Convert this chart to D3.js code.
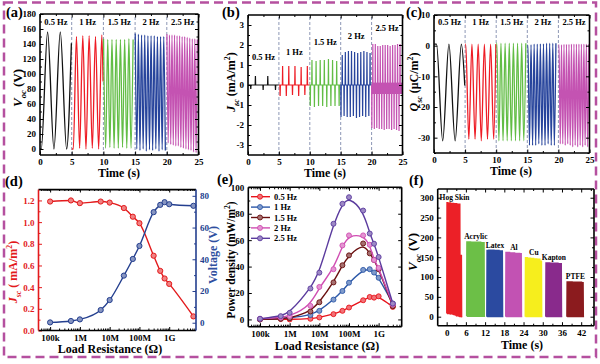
<!DOCTYPE html>
<html>
<head>
<meta charset="utf-8">
<script src="https://cdn.jsdelivr.net/npm/d3@7/dist/d3.min.js"></script>
<style>
  body { margin: 0; background: #fff; }
  text { font-family: "Liberation Serif", "Times New Roman", serif; font-weight: bold; }
</style>
</head>
<body>
<svg id="chart" width="600" height="364"></svg>
<script>
// ---------- data ----------
const segStarts = [0, 5, 10, 15, 20];
const segFreqs = [0.5, 1, 1.5, 2, 2.5];
const segLabels = ["0.5 Hz", "1 Hz", "1.5 Hz", "2 Hz", "2.5 Hz"];
const segColors = ["#111111", "#ee1c25", "#62bd45", "#27449c", "#c453b2"];

// (a) open-circuit voltage, alternating extremes (V), first one at vocT0
const vocT0 = [0.2, 5.25, 10.02, 15.02, 20.02];
const vocExt = [
  [0, 156, 0, 156, 0, 141],
  [0, 150, 1, 151, 0, 151, 1, 150, 0, 152, 90],
  [147, 1, 146, 2, 146, 1, 146, 1, 146, 2, 146, 1, 147, 1, 146],
  [154, 0, 153, -2, 152, 0, 152, -3, 151, -1, 151, -2, 151, 0, 150, -3, 150, -1, 150, -2],
  [153, 8, 152, 6, 152, 5, 152, 4, 151, 4, 151, 2, 150, 1, 150, 0, 149, -1, 148, -2, 147, -4, 147, -5, 146]
];

// (b) short-circuit current density spikes (mA/m2)
const jscUpT0 = [1.2, 5.6, 10.35, 15.25, 20.2];
const jscDownT0 = [0.45, 5.2, 10.08, 15.05, 20.04];
const jscUp = [
  [0.45, 0.45],
  [0.95, 0.95, 0.95, 0.9, 0.95],
  [1.25, 1.2, 1.25, 1.25, 1.3, 1.25, 1.2],
  [1.5, 1.65, 1.7, 1.7, 1.65, 1.6, 1.65, 1.7, 1.65, 1.6],
  [2.05, 2.05, 1.95, 1.95, 2.0, 2.0, 2.0, 1.95, 2.0, 2.0, 2.05, 2.05]
];
const jscDown = [
  [-0.2, -0.25, -0.25],
  [-0.55, -0.55, -0.5, -0.55, -0.5],
  [-1.05, -1.1, -1.05, -1.05, -1.1, -1.05, -1.05, -1.05],
  [-1.6, -1.55, -1.6, -1.6, -1.55, -1.65, -1.6, -1.55, -1.6, -1.55],
  [-2.15, -2.2, -2.15, -2.2, -2.2, -2.25, -2.2, -2.2, -2.25, -2.2, -2.25, -2.3]
];
const jscBand25 = [-0.45, 0.12];
const jscLabelY = [1.25, 1.5, 2.0, 2.3, 2.7];

// (c) transferred charge density, alternating extremes (uC/m2)
const qscT0 = [0.4, 5.1, 10.1, 15.1, 20.1];
const qscExt = [
  [0.5, -31, 0.5, -31, 0.5, -13],
  [0.5, -30.5, 0.5, -30.5, 0.5, -31, 0.5, -30.5, 0.5, -30.5, 0.5],
  [0.8, -31, 0.8, -31, 0.8, -31, 0.8, -31, 0.8, -31, 0.8, -31, 0.8, -31, 0.8],
  [0.2, -32.5, 0.3, -32.5, 0.5, -32.5, 0.5, -32, 0.6, -32.5, 0.6, -32.5, 0.8, -32, 0.8, -32.5, 0.8, -32.5, 0.8],
  [0.3, -32, 0.3, -32, 0.4, -32.5, 0.4, -32, 0.4, -32.5, 0.5, -33, 0.5, -32.5, 0.5, -33, 0.5, -32.5, 0.5, -33, 0.5, -32.5, 0.5, -33, 0.5]
];

// (d) load resistance sweep
const loadD = [1e5, 5e5, 1e6, 5e6, 1e7, 3e7, 6e7, 1e8, 3e8, 5e8, 7e8, 1e9, 6.5e9];
const jscLoad = [1.19, 1.2, 1.175, 1.19, 1.18, 1.13, 1.05, 0.99, 0.69, 0.55, 0.48, 0.43, 0.13];
const voltLoad = [0.2, 1.1, 2.1, 8, 14.3, 29.7, 40.2, 48.4, 69.7, 74.3, 76, 74.7, 73.7];

// (e) power density (mW/m2)
const loadE = [1e5, 5e5, 1e6, 5e6, 1e7, 3e7, 6e7, 1e8, 3e8, 5e8, 7e8, 1e9, 3e9];
const powerLabels = ["0.5 Hz", "1 Hz", "1.5 Hz", "2 Hz", "2.5 Hz"];
const powerColors = ["#e8141c", "#2c58a8", "#6a1010", "#d04db2", "#5b3b9e"];
const power05 = [0, 0.3, 0, 0.5, 1.5, 4, 6.5, 9, 14.5, 17, 16.5, 17.5, 9.5];
const power1 = [0, 0.8, 1.2, 3.3, 6.5, 15, 21.5, 27.8, 37.5, 38, 35.5, 31.5, 12];
const power15 = [0, 0.5, 1, 6, 13, 28, 41, 48.5, 57.5, 50, 45, 38, 10];
const power2 = [0.5, 1.5, 2.5, 10.3, 24.6, 38, 56, 63.6, 63.6, 56.5, 45, 39, 11.3];
const power25 = [0.5, 2.5, 5, 23.4, 35.4, 72.4, 87.5, 92.5, 82.4, 65, 57.3, 47.2, 12];
const powerSeries = [power05, power1, power15, power2, power25];

// (f) V_oc with different contact materials
const materials = ["Hog Skin", "Acrylic", "Latex", "Al", "Cu", "Kapton", "PTFE"];
const matColors = ["#ec2027", "#6cbf47", "#2b4aa0", "#c252b3", "#f6ee1d", "#892a8c", "#8b1b1e"];
const matStart = [0, 6.2, 12.5, 18.4, 24.5, 30.9, 37.5];
const matEnd = [4.9, 12.0, 17.7, 23.6, 29.9, 36.1, 42.9];
const matPeaks = [
  [288, 287, 287, 286, 286, 285, 285, 284, 284, 155],
  [189, 189, 189, 188, 188, 188, 188, 188, 188, 187, 187],
  [167, 168, 168, 168, 168, 167, 167, 167, 166, 166],
  [162, 162, 162, 161, 161, 161, 160, 160, 160, 159],
  [149, 149, 148, 148, 147, 147, 146, 146, 145, 145, 140],
  [136, 136, 136, 135, 135, 135, 135, 135, 134, 134],
  [88, 88, 88, 88, 87, 87, 87, 87, 87, 87, 86]
];
const matFloor = [
  [8, 8, 7, 7, 6, 5, 3, 2, 1, 0, 0],
  [1, 1, 1, 1, 1, 1, 1, 1, 1, 1, 1, 1],
  [0, 0, 0, 0, 0, 0, 0, 0, 0, 0, 0],
  [0, 0, 0, 0, 0, 0, 0, 0, 0, 0, 0],
  [0, 0, 0, 0, 0, 0, 0, 0, 0, 0, 0, 0],
  [0, 0, 0, 0, 0, 0, 0, 0, 0, 0, 0],
  [0, 0, 0, 0, 0, 0, 0, 0, 0, 0, 0, 0]
];

// ---------- helpers ----------
const svg = d3.select("#chart");
const SERIF = "'Liberation Serif', 'Times New Roman', serif";

svg.append("rect")
  .attr("x", 4).attr("y", 2.5).attr("width", 592).attr("height", 354.5)
  .attr("fill", "none").attr("stroke", "#b5509f")
  .attr("stroke-width", 2.5).attr("stroke-dasharray", "9,5");

function addAxis(g, orient, scale, at, values, size, format, color) {
  const maker = { bottom: d3.axisBottom, top: d3.axisTop, left: d3.axisLeft, right: d3.axisRight }[orient];
  const axis = maker(scale).tickValues(values).tickSize(-size).tickPadding(4)
    .tickFormat(format || "");
  const horizontal = orient === "bottom" || orient === "top";
  const a = g.append("g")
    .attr("transform", horizontal ? `translate(0,${at})` : `translate(${at},0)`)
    .call(axis);
  a.select(".domain").remove();
  a.selectAll("line").attr("stroke", color || "#000").attr("stroke-width", 1);
  a.selectAll("text").attr("fill", color || "#000").attr("font-size", 9)
    .attr("font-family", SERIF).attr("font-weight", "bold");
  return a;
}

function frame(g, x, y, sides) {
  const [x0, x1] = x.range();
  const [y0, y1] = y.range();
  const c = sides || {};
  const line = (ax, ay, bx, by, col) => g.append("line")
    .attr("x1", ax).attr("y1", ay).attr("x2", bx).attr("y2", by)
    .attr("stroke", col || "#000").attr("stroke-width", 1.6);
  line(x0, y0, x1, y0);
  line(x0, y1, x1, y1);
  line(x0, y0, x0, y1, c.left);
  line(x1, y0, x1, y1, c.right);
}

function standardAxes(g, x, y, o) {
  const [x0, x1] = x.range();
  const [y0, y1] = y.range();
  addAxis(g, "bottom", x, y0, o.xMinor, 2);
  addAxis(g, "top", x, y1, o.xMinor, 2);
  addAxis(g, "bottom", x, y0, o.xTicks, 3.5, o.xFormat || (d => String(d)));
  addAxis(g, "top", x, y1, o.xTicks, 3.5);
  addAxis(g, "left", y, x0, o.yMinor, 2);
  addAxis(g, "right", y, x1, o.yMinor, 2);
  addAxis(g, "left", y, x0, o.yTicks, 3.5, o.yFormat || (d => String(d)));
  addAxis(g, "right", y, x1, o.yTicks, 3.5);
  frame(g, x, y);
}

function label(text, x, y, size, anchor) {
  return svg.append("text").attr("x", x).attr("y", y)
    .attr("font-size", size).attr("text-anchor", anchor || "middle").text(text);
}

// rotated y title built from parts: [text, style] with style "i" italic, "sub", "sup"
function yTitle(parts, x, y, size, color) {
  const t = svg.append("text")
    .attr("transform", `translate(${x},${y}) rotate(-90)`)
    .attr("text-anchor", "middle").attr("font-size", size)
    .attr("fill", color || "#000");
  let shift = 0;
  parts.forEach(([s, style]) => {
    const sp = t.append("tspan").text(s);
    let want = 0;
    if (style && style.includes("i")) sp.attr("font-style", "italic");
    if (style && style.includes("sub")) { sp.attr("font-size", size * 0.65); want = size * 0.3; }
    if (style && style.includes("sup")) { sp.attr("font-size", size * 0.65); want = -size * 0.4; }
    if (want !== shift) { sp.attr("dy", want - shift); shift = want; }
  });
  return t;
}

function panelTag(s, x, y) { label(s, x, y, 14.5, "start"); }

// waveform from alternating extremes
function wavePoints(seg, t0, values) {
  const step = 0.5 / segFreqs[seg];
  const start = segStarts[seg], end = start + 5 - 0.05;
  const pts = [];
  if (t0 > start + 0.05) pts.push([start + 0.03, values[0]]);
  for (let j = 0; j < values.length; j++) {
    const t = t0 + j * step;
    if (t >= end) { pts.push([end, values[j]]); break; }
    pts.push([t, values[j]]);
  }
  return pts;
}

function spikePoints(seg) {
  const T = 1 / segFreqs[seg];
  const ev = [];
  jscUp[seg].forEach((v, k) => ev.push([jscUpT0[seg] + k * T, v]));
  jscDown[seg].forEach((v, k) => ev.push([jscDownT0[seg] + k * T, v]));
  ev.sort((a, b) => a[0] - b[0]);
  const pts = [[segStarts[seg] + 0.03, 0]];
  ev.forEach(([t, v]) => pts.push([t - 0.04, 0], [t, v], [t + 0.04, 0]));
  pts.push([segStarts[seg] + 4.97, 0]);
  return pts;
}

function segDividers(g, x, y) {
  g.append("g").selectAll("line").data(segStarts.slice(1)).join("line")
    .attr("x1", d => x(d)).attr("x2", d => x(d))
    .attr("y1", y.range()[0]).attr("y2", y.range()[1])
    .attr("stroke", "#8d97b5").attr("stroke-width", 1).attr("stroke-dasharray", "3,2");
}

const timeTicks = [0, 5, 10, 15, 20, 25];
const timeMinor = [2.5, 7.5, 12.5, 17.5, 22.5];

// ---------- (a) ----------
{
  const x = d3.scaleLinear().domain([0, 25]).range([40, 198.5]);
  const y = d3.scaleLinear().domain([-8, 180]).range([155, 14]);
  const g = svg.append("g");
  segDividers(g, x, y);
  const line = d3.line().x(d => x(d[0])).y(d => y(d[1])).curve(d3.curveMonotoneX);
  vocExt.forEach((vals, i) => {
    g.append("path").attr("d", line(wavePoints(i, vocT0[i], vals)))
      .attr("fill", "none").attr("stroke", segColors[i]).attr("stroke-width", 1.3);
  });
  g.selectAll(".fl").data(segLabels).join("text")
    .attr("x", (d, i) => x(segStarts[i] + 2.5)).attr("y", 25)
    .attr("text-anchor", "middle").attr("font-size", 8.5).text(d => d);
  standardAxes(g, x, y, {
    xTicks: timeTicks, xMinor: timeMinor,
    yTicks: d3.range(0, 181, 20), yMinor: d3.range(10, 180, 20)
  });
  yTitle([["V", "i"], ["oc", "i sub"], [" (V)"]], 22, 88, 13);
  label("Time (s)", 119, 177, 12);
  panelTag("(a)", 6, 17);
}

// ---------- (b) ----------
{
  const x = d3.scaleLinear().domain([0, 25]).range([248, 402.5]);
  const y = d3.scaleLinear().domain([-3.5, 3.5]).range([155, 15]);
  const g = svg.append("g");
  segDividers(g, x, y);
  g.append("path").datum([[20.05, jscBand25], [24.95, jscBand25]])
    .attr("d", d3.area().x(d => x(d[0])).y0(d => y(d[1][0])).y1(d => y(d[1][1])))
    .attr("fill", segColors[4]);
  const line = d3.line().x(d => x(d[0])).y(d => y(d[1]));
  segStarts.forEach((s, i) => {
    g.append("path").attr("d", line(spikePoints(i)))
      .attr("fill", "none").attr("stroke", segColors[i]).attr("stroke-width", 1.2);
  });
  g.selectAll(".fl").data(segLabels).join("text")
    .attr("x", (d, i) => x(segStarts[i] + 2.5)).attr("y", (d, i) => y(jscLabelY[i]))
    .attr("text-anchor", "middle").attr("font-size", 8.5).text(d => d);
  standardAxes(g, x, y, {
    xTicks: timeTicks, xMinor: timeMinor,
    yTicks: d3.range(-3, 4, 1), yMinor: d3.range(-2.5, 3, 1)
  });
  yTitle([["J", "i"], ["sc", "i sub"], [" (mA/m"], ["2", "sup"], [")"]], 235, 82, 12);
  label("Time (s)", 325, 177, 12);
  panelTag("(b)", 222, 17);
}

// ---------- (c) ----------
{
  const x = d3.scaleLinear().domain([0, 25]).range([434, 589.5]);
  const y = d3.scaleLinear().domain([-35, 10]).range([153, 15]);
  const g = svg.append("g");
  segDividers(g, x, y);
  const line = d3.line().x(d => x(d[0])).y(d => y(d[1])).curve(d3.curveMonotoneX);
  qscExt.forEach((vals, i) => {
    g.append("path").attr("d", line(wavePoints(i, qscT0[i], vals)))
      .attr("fill", "none").attr("stroke", segColors[i]).attr("stroke-width", 1.3);
  });
  g.selectAll(".fl").data(segLabels).join("text")
    .attr("x", (d, i) => x(segStarts[i] + 2.5)).attr("y", 25)
    .attr("text-anchor", "middle").attr("font-size", 8.5).text(d => d);
  standardAxes(g, x, y, {
    xTicks: timeTicks, xMinor: timeMinor,
    yTicks: d3.range(-30, 11, 10), yMinor: d3.range(-35, 10, 10)
  });
  yTitle([["Q", "i"], ["sc", "i sub"], [" (\u03bcC/m"], ["2", "sup"], [")"]], 418, 82, 12);
  label("Time (s)", 511, 175, 12);
  panelTag("(c)", 406, 17);
}

// ---------- log axis helpers ----------
const ohmTicks = [1e5, 1e6, 1e7, 1e8, 1e9];
const ohmNames = ["100k", "1M", "10M", "100M", "1G"];
const ohmMinor = d3.merge(d3.range(4, 10).map(e => d3.range(2, 10).map(m => m * Math.pow(10, e))));
const ohmFormat = d => ohmNames[ohmTicks.indexOf(d)];

// ---------- (d) ----------
{
  const red = "#e31a1c", blue = "#243f8f";
  const x = d3.scaleLog().domain([Math.pow(10, 4.61), Math.pow(10, 9.9)]).range([38.5, 196]);
  const minorD = ohmMinor.filter(v => v > x.domain()[0] && v < x.domain()[1]);
  const yL = d3.scaleLinear().domain([0, 1.3]).range([330.5, 189.6]);
  const yR = d3.scaleLinear().domain([-4.9, 84.3]).range([330.5, 189]);
  const g = svg.append("g");
  const pts1 = loadD.map((r, i) => [r, jscLoad[i]]);
  const pts2 = loadD.map((r, i) => [r, voltLoad[i]]);
  g.append("path").attr("d", d3.line().x(d => x(d[0])).y(d => yL(d[1])).curve(d3.curveMonotoneX)(pts1))
    .attr("fill", "none").attr("stroke", red).attr("stroke-width", 1.4);
  g.append("path").attr("d", d3.line().x(d => x(d[0])).y(d => yR(d[1])).curve(d3.curveMonotoneX)(pts2))
    .attr("fill", "none").attr("stroke", blue).attr("stroke-width", 1.4);
  g.selectAll(".m1").data(pts1).join("circle")
    .attr("cx", d => x(d[0])).attr("cy", d => yL(d[1])).attr("r", 2.6)
    .attr("fill", d3.interpolateRgb(red, "#fff")(0.45)).attr("stroke", red).attr("stroke-width", 1);
  g.selectAll(".m2").data(pts2).join("circle")
    .attr("cx", d => x(d[0])).attr("cy", d => yR(d[1])).attr("r", 2.6)
    .attr("fill", d3.interpolateRgb(blue, "#fff")(0.45)).attr("stroke", blue).attr("stroke-width", 1);
  addAxis(g, "bottom", x, 330.5, minorD, 2);
  addAxis(g, "top", x, 189, minorD, 2);
  addAxis(g, "bottom", x, 330.5, ohmTicks, 3.5, ohmFormat);
  addAxis(g, "top", x, 189, ohmTicks, 3.5);
  addAxis(g, "left", yL, 38.5, d3.range(0.1, 1.3, 0.2), 2, null, red);
  addAxis(g, "left", yL, 38.5, d3.range(0, 1.21, 0.2), 3.5, d3.format(".1f"), red);
  addAxis(g, "right", yR, 196, d3.range(10, 81, 20), 2, null, blue);
  addAxis(g, "right", yR, 196, d3.range(0, 81, 20), 3.5, d => String(d), blue);
  frame(g, x, yL, { left: red, right: blue });
  yTitle([["J", "i"], ["sc", "i sub"], [" ( mA/m"], ["2", "sup"], [")"]], 17, 272, 12, red);
  yTitle([["Voltage (V)"]], 217, 255, 12, "#2f4fa0");
  label("Load Resistance (\u03a9)", 110, 353, 12);
  panelTag("(d)", 5, 186);
}

// ---------- (e) ----------
{
  const x = d3.scaleLog().domain([Math.pow(10, 4.605), Math.pow(10, 9.777)]).range([248.3, 401.7]);
  const minorE = ohmMinor.filter(v => v > x.domain()[0] && v < x.domain()[1]);
  const y = d3.scaleLinear().domain([-5.5, 100]).range([326.7, 187.3]);
  const g = svg.append("g");
  powerSeries.forEach((vals, i) => {
    const pts = loadE.map((r, j) => [r, vals[j]]);
    const col = powerColors[i];
    g.append("path").attr("d", d3.line().x(d => x(d[0])).y(d => y(d[1])).curve(d3.curveBasis)(pts))
      .attr("fill", "none").attr("stroke", col).attr("stroke-width", 1.4);
    g.append("g").selectAll("circle").data(pts).join("circle")
      .attr("cx", d => x(d[0])).attr("cy", d => y(d[1])).attr("r", 2.5)
      .attr("fill", d3.interpolateRgb(col, "#fff")(0.4)).attr("stroke", col).attr("stroke-width", 0.9);
  });
  const leg = g.append("g").selectAll("g").data(powerLabels).join("g")
    .attr("transform", (d, i) => `translate(0,${196.7 + i * 10.4})`);
  leg.append("line").attr("x1", 251).attr("x2", 270).attr("stroke", (d, i) => powerColors[i]).attr("stroke-width", 1.4);
  leg.append("circle").attr("cx", 260).attr("r", 2.5)
    .attr("fill", (d, i) => d3.interpolateRgb(powerColors[i], "#fff")(0.4))
    .attr("stroke", (d, i) => powerColors[i]).attr("stroke-width", 0.9);
  leg.append("text").attr("x", 274).attr("y", 3).attr("font-size", 8.5).text(d => d);
  addAxis(g, "bottom", x, 326.7, minorE, 2);
  addAxis(g, "top", x, 187.3, minorE, 2);
  addAxis(g, "bottom", x, 326.7, ohmTicks, 3.5, ohmFormat);
  addAxis(g, "top", x, 187.3, ohmTicks, 3.5);
  addAxis(g, "left", y, 248.3, d3.range(10, 100, 20), 2);
  addAxis(g, "right", y, 401.7, d3.range(10, 100, 20), 2);
  addAxis(g, "left", y, 248.3, d3.range(0, 101, 20), 3.5, d => String(d));
  addAxis(g, "right", y, 401.7, d3.range(0, 101, 20), 3.5);
  frame(g, x, y);
  yTitle([["Power density (mW/m"], ["2", "sup"], [")"]], 235, 260, 11.5);
  label("Load Resistance (\u03a9)", 327, 349.5, 12);
  panelTag("(e)", 217, 184);
}

// ---------- (f) ----------
{
  const x = d3.scaleLinear().domain([-2.8, 46]).range([437.7, 594]);
  const y = d3.scaleLinear().domain([-22.7, 322]).range([325.7, 189]);
  const g = svg.append("g");
  const line = d3.line().x(d => x(d[0])).y(d => y(d[1]));
  materials.forEach((m, i) => {
    const peaks = matPeaks[i], floor = matFloor[i];
    const step = (matEnd[i] - matStart[i]) / peaks.length;
    const pts = [];
    peaks.forEach((p, k) => {
      const t = matStart[i] + k * step;
      pts.push([t, floor[k]], [t + step * 0.15, p], [t + step * 0.45, p], [t + step * 0.6, floor[k]]);
    });
    pts.push([matEnd[i], floor[peaks.length]]);
    g.append("path").attr("d", line(pts))
      .attr("fill", "none").attr("stroke", matColors[i]).attr("stroke-width", 1.2);
    g.append("text").attr("x", x((matStart[i] + matEnd[i]) / 2)).attr("y", y(d3.max(peaks)) - 2.5)
      .attr("text-anchor", "middle").attr("font-size", 7.5).text(m);
  });
  standardAxes(g, x, y, {
    xTicks: d3.range(0, 43, 6), xMinor: d3.range(3, 46, 6),
    yTicks: d3.range(0, 301, 50), yMinor: d3.range(25, 320, 50)
  });
  yTitle([["V", "i"], ["oc", "i sub"], [" (V)"]], 417, 252, 13);
  label("Time (s)", 522, 348.5, 12);
  panelTag("(f)", 409, 185);
}
</script>
</body>
</html>
